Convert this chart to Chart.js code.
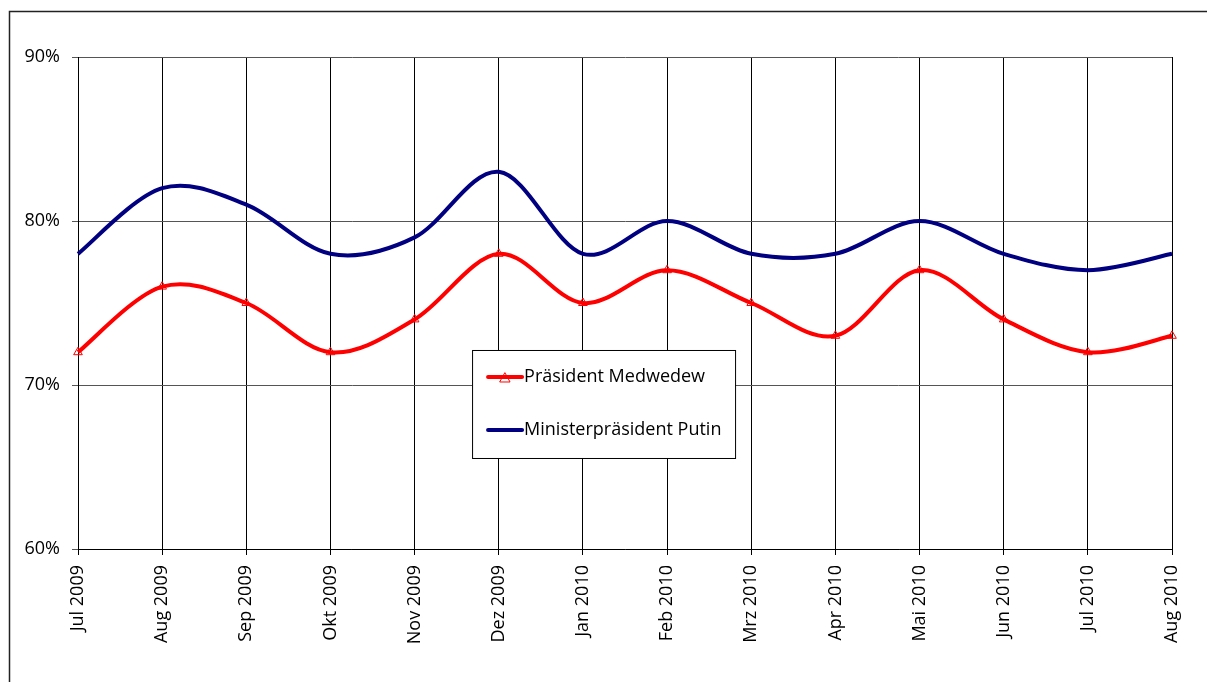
<!DOCTYPE html>
<html>
<head>
<meta charset="utf-8">
<script src="https://cdn.jsdelivr.net/npm/chart.js@4/dist/chart.umd.min.js"></script>
<style>
  html, body { margin: 0; padding: 0; background: #fff; }
  #wrap { width: 1207px; height: 682px; position: relative; }
</style>
</head>
<body>
<div id="wrap"><canvas id="c" width="1207" height="682"></canvas></div>
<script>
// Monthly approval ratings (percent)
const months = ["Jul 2009", "Aug 2009", "Sep 2009", "Okt 2009", "Nov 2009", "Dez 2009", "Jan 2010",
                "Feb 2010", "Mrz 2010", "Apr 2010", "Mai 2010", "Jun 2010", "Jul 2010", "Aug 2010"];
const medwedew = [72, 76, 75, 72, 74, 78, 75, 77, 75, 73, 77, 74, 72, 73];
const putin    = [78, 82, 81, 78, 79, 83, 78, 80, 78, 78, 80, 78, 77, 78];
const seriesNames = ["Präsident Medwedew", "Ministerpräsident Putin"];
const yTicks = [60, 70, 80, 90];

const FONT = "'Open Sans', 'DejaVu Sans', sans-serif";
const FONT_SIZE = 18;

// Frame around the whole figure
const framePlugin = {
  id: 'frame',
  beforeDraw(chart) {
    const ctx = chart.ctx;
    ctx.save();
    ctx.strokeStyle = '#222';
    ctx.lineWidth = 1.5;
    ctx.strokeRect(9.5, 11.5, chart.width + 20, chart.height + 20);
    ctx.restore();
  }
};

// Smooth lines as uniform Catmull-Rom splines through the laid-out points
const smoothPlugin = {
  id: 'smooth',
  beforeDatasetsDraw(chart) {
    chart.data.datasets.forEach((ds, i) => {
      const meta = chart.getDatasetMeta(i);
      const line = meta.dataset;
      if (!line) return;
      line.updateControlPoints(chart.chartArea, 'x');
      const pts = meta.data;
      const n = pts.length;
      for (let k = 0; k < n; k++) {
        const p = pts[k];
        const prev = pts[Math.max(k - 1, 0)];
        const next = pts[Math.min(k + 1, n - 1)];
        const dx = (next.x - prev.x) / 6;
        const dy = (next.y - prev.y) / 6;
        p.cp1x = p.x - dx; p.cp1y = p.y - dy;
        p.cp2x = p.x + dx; p.cp2y = p.y + dy;
      }
    });
  }
};

// Boxed legend placed inside the plot area
const boxLegend = {
  id: 'boxLegend',
  afterDraw(chart) {
    const ctx = chart.ctx;
    const a = chart.chartArea;
    const x = a.left + (a.right - a.left) * 0.3602;
    const y = a.top + (a.bottom - a.top) * 0.5955;
    const w = 263, h = 108;
    ctx.save();
    ctx.fillStyle = '#fff';
    ctx.fillRect(x, y, w, h);
    ctx.strokeStyle = '#000';
    ctx.lineWidth = 1;
    ctx.strokeRect(x + 0.5, y + 0.5, w, h);
    ctx.font = FONT_SIZE + "px " + FONT;
    ctx.textBaseline = 'middle';
    const rows = [27, 80];
    chart.data.datasets.forEach((ds, i) => {
      const ry = y + rows[i];
      ctx.strokeStyle = ds.borderColor;
      ctx.lineWidth = 4;
      ctx.lineCap = 'round';
      ctx.beginPath();
      ctx.moveTo(x + 16, ry);
      ctx.lineTo(x + 50, ry);
      ctx.stroke();
      if (ds.pointStyle === 'triangle') {
        ctx.lineWidth = 1;
        ctx.beginPath();
        ctx.moveTo(x + 33, ry - 4);
        ctx.lineTo(x + 38, ry + 5);
        ctx.lineTo(x + 28, ry + 5);
        ctx.closePath();
        ctx.stroke();
      }
      ctx.fillStyle = '#000';
      ctx.fillText(ds.label, x + 52, ry);
    });
    ctx.restore();
  }
};

new Chart(document.getElementById('c'), {
  type: 'line',
  data: {
    labels: months,
    datasets: [
      {
        label: seriesNames[0],
        data: medwedew,
        borderColor: '#ff0000',
        backgroundColor: 'rgba(0,0,0,0)',
        borderWidth: 4,
        tension: 0.4,
        pointStyle: 'triangle',
        pointRadius: 5,
        pointBorderWidth: 1,
        pointBorderColor: '#ff0000',
        pointBackgroundColor: 'rgba(0,0,0,0)',
        clip: false
      },
      {
        label: seriesNames[1],
        data: putin,
        borderColor: '#000080',
        backgroundColor: 'rgba(0,0,0,0)',
        borderWidth: 4,
        tension: 0.4,
        pointRadius: 0,
        clip: false
      }
    ]
  },
  options: {
    responsive: false,
    animation: false,
    devicePixelRatio: 1,
    layout: { padding: { left: 0, top: 57, right: 35, bottom: 0 } },
    plugins: {
      legend: { display: false },
      tooltip: { enabled: false }
    },
    scales: {
      x: {
        offset: false,
        grid: {
          color: '#000',
          lineWidth: 1,
          drawTicks: true,
          tickLength: 6,
          tickColor: '#000'
        },
        border: { display: true, color: '#000', width: 1 },
        ticks: {
          autoSkip: false,
          maxRotation: 90,
          minRotation: 90,
          padding: 10,
          color: '#000',
          font: { family: FONT, size: FONT_SIZE }
        },
        afterFit(scale) { scale.height = 133; }
      },
      y: {
        min: 60,
        max: 90,
        afterBuildTicks(scale) { scale.ticks = yTicks.map(v => ({ value: v })); },
        grid: {
          color: '#555',
          lineWidth: 1,
          tickLength: 6,
          tickColor: '#555'
        },
        border: { display: true, color: '#000', width: 1 },
        ticks: {
          padding: 12,
          color: '#000',
          font: { family: FONT, size: FONT_SIZE },
          callback: v => v + '%'
        },
        afterFit(scale) { scale.width = 78; }
      }
    }
  },
  plugins: [framePlugin, smoothPlugin, boxLegend]
});
</script>
</body>
</html>
